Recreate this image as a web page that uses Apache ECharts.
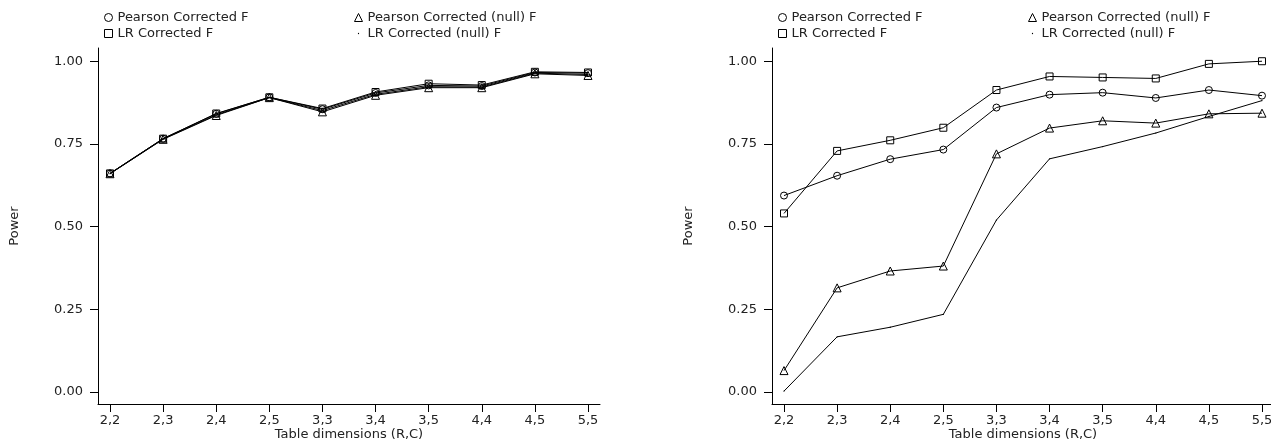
<!DOCTYPE html>
<html>
<head>
<meta charset="utf-8">
<script src="https://cdn.jsdelivr.net/npm/echarts@6/dist/echarts.min.js"></script>
<style>
html,body{margin:0;padding:0;background:#fff;}
#c{width:1271px;height:442px;}
</style>
</head>
<body>
<div id="c"></div>
<script>
// ---------- data ----------
const categories = ['2,2','2,3','2,4','2,5','3,3','3,4','3,5','4,4','4,5','5,5'];
const yTicks = [0, 0.25, 0.5, 0.75, 1];
const seriesNames = ['Pearson Corrected F','LR Corrected F','Pearson Corrected (null) F','LR Corrected (null) F'];

// left panel
const pearsonF_L     = [0.661, 0.766, 0.841, 0.891, 0.855, 0.904, 0.927, 0.925, 0.966, 0.964];
const lrF_L          = [0.661, 0.766, 0.842, 0.891, 0.857, 0.907, 0.932, 0.928, 0.968, 0.966];
const pearsonNullF_L = [0.660, 0.764, 0.836, 0.890, 0.847, 0.897, 0.920, 0.920, 0.962, 0.957];
const lrNullF_L      = [0.660, 0.765, 0.838, 0.890, 0.851, 0.900, 0.923, 0.922, 0.964, 0.960];

// right panel
const pearsonF_R     = [0.594, 0.654, 0.704, 0.733, 0.860, 0.899, 0.905, 0.889, 0.913, 0.896];
const lrF_R          = [0.540, 0.729, 0.761, 0.799, 0.913, 0.954, 0.951, 0.948, 0.992, 1.000];
const pearsonNullF_R = [0.065, 0.315, 0.366, 0.381, 0.720, 0.798, 0.820, 0.813, 0.841, 0.843];
const lrNullF_R      = [0.003, 0.167, 0.196, 0.235, 0.520, 0.705, 0.742, 0.783, 0.833, 0.881];

// ---------- chart ----------
const FONT = 'DejaVu Sans';
const FS = 13;
const TXT = '#222';
const DOT = 'path://M0,0M10,10M4.2,5a0.8,0.8 0 1,0 1.6,0a0.8,0.8 0 1,0 -1.6,0z';
const symbols = ['circle','rect','triangle', DOT];
const symSizes = [7, 7, 8, 8];

function toPairs(arr){ return arr.map((v,i)=>[i,v]); }

const grids = [
  {left: 98, width: 502, top: 48, height: 356, outerBoundsMode: 'none', containLabel: false},
  {left: 772, width: 502, top: 48, height: 356, outerBoundsMode: 'none', containLabel: false}
];

function xAxis(gi){
  return {
    gridIndex: gi, type: 'value', min: -0.226, max: 9.226,
    name: 'Table dimensions (R,C)', nameLocation: 'middle', nameGap: 24, nameMoveOverlap: false,
    nameTextStyle: {fontFamily: FONT, fontSize: FS, color: TXT},
    axisLine: {show: true, onZero: false, lineStyle: {color: '#000', width: 1}},
    axisTick: {show: true, length: 8, customValues: categories.map((c,i)=>i), lineStyle: {color: '#000'}},
    axisLabel: {show: true, margin: 10, customValues: categories.map((c,i)=>i),
      formatter: v => categories[Math.round(v)], fontFamily: FONT, fontSize: FS, color: TXT},
    splitLine: {show: false}
  };
}
function yAxis(gi){
  return {
    gridIndex: gi, type: 'value', min: -0.036, max: 1.04,
    name: 'Power', nameLocation: 'middle', nameGap: 77, nameRotate: 90, nameMoveOverlap: false,
    nameTextStyle: {fontFamily: FONT, fontSize: FS, color: TXT},
    axisLine: {show: true, onZero: false, lineStyle: {color: '#000', width: 1}},
    axisTick: {show: true, length: 8, customValues: yTicks, lineStyle: {color: '#000'}},
    axisLabel: {show: true, margin: 15, customValues: yTicks,
      formatter: v => v.toFixed(2), fontFamily: FONT, fontSize: FS, color: TXT},
    splitLine: {show: false}
  };
}

function mkSeries(gi, datas){
  return datas.map((d, k) => ({
    name: seriesNames[k],
    type: 'line',
    xAxisIndex: gi, yAxisIndex: gi,
    data: toPairs(d),
    symbol: symbols[k],
    symbolSize: symSizes[k],
    showSymbol: true,
    animation: false,
    lineStyle: {color: '#000', width: 1},
    itemStyle: k === 3 ? {color: '#000', borderWidth: 0} : {color: 'rgba(0,0,0,0)', borderColor: '#000', borderWidth: 1},
    emphasis: {disabled: true},
    z: 2 + k
  }));
}

function legend(left, names){
  return {
    left: left, top: 6, orient: 'vertical', itemGap: 3,
    itemWidth: 8, itemHeight: 8, selectedMode: false,
    textStyle: {fontFamily: FONT, fontSize: FS, color: TXT},
    data: names.map(n => {
      const k = seriesNames.indexOf(n);
      const it = {name: n, icon: symbols[k]};
      if (k === 3) it.itemStyle = {color: '#000', borderWidth: 0};
      else it.itemStyle = {color: 'rgba(0,0,0,0)', borderColor: '#000', borderWidth: 1};
      return it;
    })
  };
}

const chart = echarts.init(document.getElementById('c'), null, {renderer: 'canvas'});
chart.setOption({
  animation: false,
  backgroundColor: '#fff',
  grid: grids,
  xAxis: [xAxis(0), xAxis(1)],
  yAxis: [yAxis(0), yAxis(1)],
  legend: [
    legend(99, [seriesNames[0], seriesNames[1]]),
    legend(349, [seriesNames[2], seriesNames[3]]),
    legend(773, [seriesNames[0], seriesNames[1]]),
    legend(1023, [seriesNames[2], seriesNames[3]])
  ],
  series: [
    ...mkSeries(0, [pearsonF_L, lrF_L, pearsonNullF_L, lrNullF_L]),
    ...mkSeries(1, [pearsonF_R, lrF_R, pearsonNullF_R, lrNullF_R])
  ]
});
</script>
</body>
</html>
